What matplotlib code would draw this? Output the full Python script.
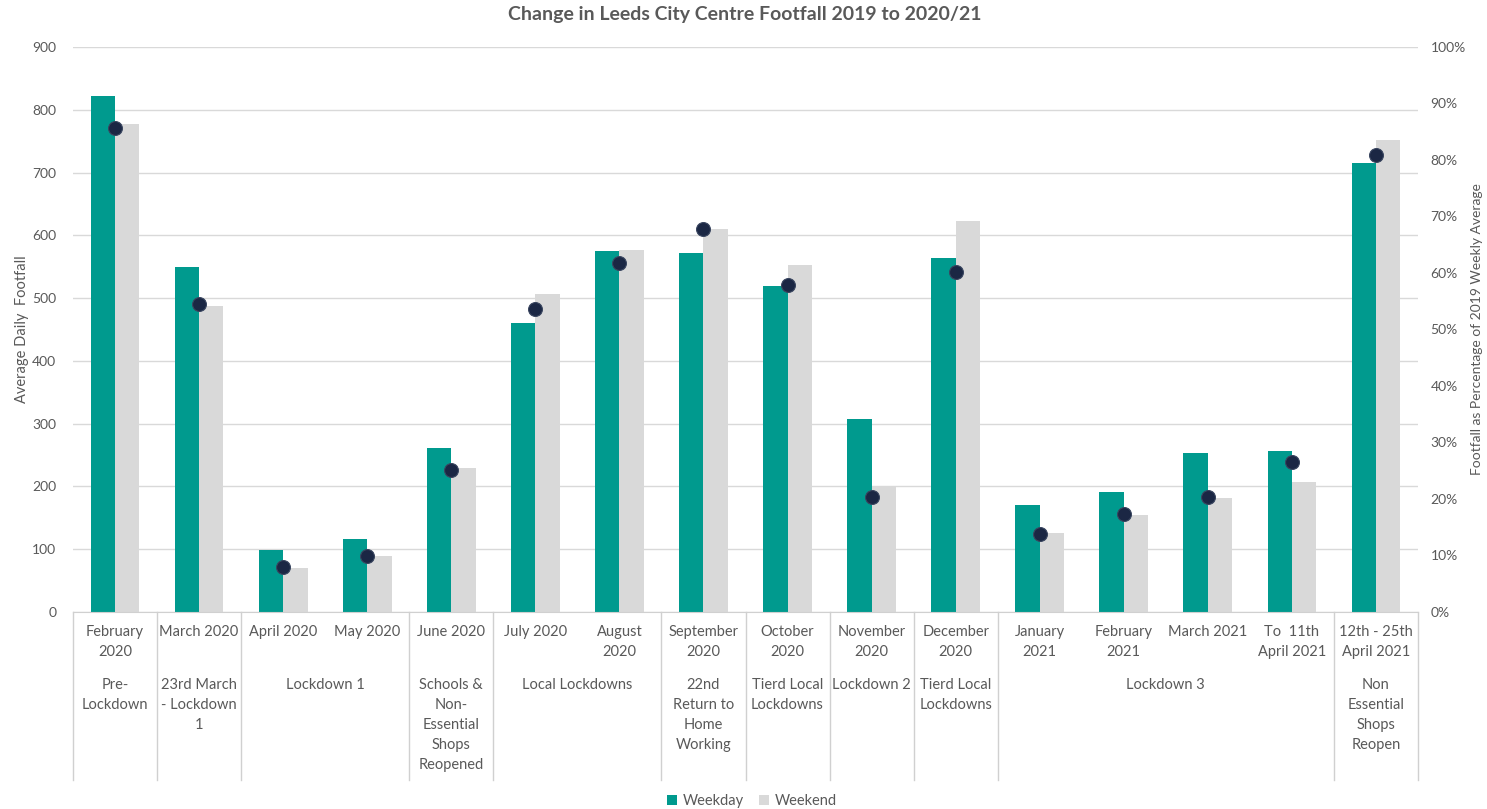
import matplotlib.pyplot as plt
import numpy as np
from matplotlib.ticker import PercentFormatter

plt.rcParams['font.family'] = ['Lato', 'DejaVu Sans']

# month labels (inner level of the x axis)
months = ['February\n2020', 'March 2020', 'April 2020', 'May 2020', 'June 2020',
          'July 2020', 'August\n2020', 'September\n2020', 'October\n2020',
          'November\n2020', 'December\n2020', 'January\n2021', 'February\n2021',
          'March 2021', 'To  11th\nApril 2021', '12th - 25th\nApril 2021']

# outer level of the x axis and how many months each one covers
phases = ['Pre-\nLockdown', '23rd March\n- Lockdown\n1', 'Lockdown 1',
          'Schools &\nNon-\nEssential\nShops\nReopened', 'Local Lockdowns',
          '22nd\nReturn to\nHome\nWorking', 'Tierd Local\nLockdowns', 'Lockdown 2',
          'Tierd Local\nLockdowns', 'Lockdown 3', 'Non\nEssential\nShops\nReopen']
phase_sizes = [1, 1, 2, 1, 2, 1, 1, 1, 1, 4, 1]

weekday = [822, 549, 98, 117, 261, 460, 575, 572, 519, 307, 564, 170, 191, 253, 256, 715]
weekend = [778, 487, 70, 89, 230, 507, 576, 610, 552, 199, 623, 126, 155, 181, 207, 752]
# footfall as percentage of 2019 weekly average
pct = [85.7, 54.5, 7.9, 10.0, 25.2, 53.7, 61.7, 67.7, 57.8, 20.4, 60.2, 13.8, 17.4, 20.3, 26.6, 80.8]

teal = '#009A8E'
grey = '#D9D9D9'
txt = '#595959'

fig = plt.figure(figsize=(14.87, 8.09), dpi=100)
ax = fig.add_axes([73/1487, 1-612/809, (1418-73)/1487, (612-47)/809])
x = np.arange(len(months))
w = 0.29
ax.bar(x - w/2, weekday, w, color=teal, label='Weekday', zorder=2)
ax.bar(x + w/2, weekend, w, color=grey, label='Weekend', zorder=2)
ax.set_xlim(-0.5, len(months) - 0.5)
ax.set_ylim(0, 900)
ax.set_yticks(range(0, 901, 100))
ax.grid(axis='y', color='#D9D9D9', lw=1)
ax.set_axisbelow(True)
ax.set_xticks([])
for s in ['top', 'right', 'left']:
    ax.spines[s].set_visible(False)
ax.spines['bottom'].set_color('#D0D0D0')
ax.tick_params(axis='y', length=0, labelsize=10, labelcolor=txt, pad=12)
ax.set_ylabel('Average Daily  Footfall', fontsize=10.5, color=txt)
ax.yaxis.set_label_coords((29 - 73) / 1345, 0.5)

ax2 = ax.twinx()
ax2.plot(x, pct, 'o', ms=10, color='#1B2744', mec='#3A4660', mew=0.8, zorder=3)
ax2.set_ylim(0, 100)
ax2.set_yticks(range(0, 101, 10))
ax2.yaxis.set_major_formatter(PercentFormatter(decimals=0))
for s in ['top', 'right', 'left', 'bottom']:
    ax2.spines[s].set_visible(False)
ax2.tick_params(axis='y', length=0, labelsize=10, labelcolor=txt, pad=9)
ax2.set_ylabel('Footfall as Percentage of 2019 Weekly Average', fontsize=10, color=txt)
ax2.yaxis.set_label_coords((1471 - 73) / 1345, 0.5)

# inner month labels
for i, m in enumerate(months):
    ax.annotate(m, xy=(i, 0), xycoords=('data', 'axes fraction'), xytext=(0, -13),
                textcoords='offset pixels', ha='center', va='top', fontsize=10.5,
                color=txt, linespacing=1.55)

# phase labels and separators
depth = -(780 - 612) / 565
start = 0
edges = [-0.5]
for lab, n in zip(phases, phase_sizes):
    c = start + (n - 1) / 2
    ax.annotate(lab, xy=(c, 0), xycoords=('data', 'axes fraction'), xytext=(0, -66),
                textcoords='offset pixels', ha='center', va='top', fontsize=10.5,
                color=txt, linespacing=1.55)
    start += n
    edges.append(start - 0.5)
for e in edges:
    ax.plot([e, e], [0, depth], color='#D0D0D0', lw=1,
            transform=ax.get_xaxis_transform(), clip_on=False)

fig.suptitle('Change in Leeds City Centre Footfall 2019 to 2020/21', x=745/1487, y=1-6/809,
             fontsize=14, fontweight='bold', color=txt, va='top')
fig.legend(*ax.get_legend_handles_labels(), loc='center', bbox_to_anchor=(752/1487, 1-801/809),
           ncol=2, frameon=False, fontsize=10.5, handlelength=0.7, handleheight=0.7,
           handletextpad=0.4, columnspacing=1.0, labelcolor=txt)

plt.savefig('out.png', dpi=100)
